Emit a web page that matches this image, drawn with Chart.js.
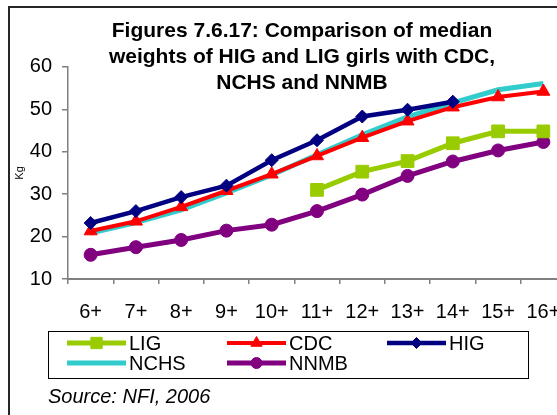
<!DOCTYPE html>
<html>
<head>
<meta charset="utf-8">
<script src="https://cdn.jsdelivr.net/npm/chart.js@4/dist/chart.umd.min.js"></script>
<style>
  html, body { margin: 0; padding: 0; background: #fff; overflow: hidden; width: 557px; height: 415px; }
  #frame { position: absolute; left: 8px; top: 6px; width: 700px; height: 600px; border: 2px solid #262626; box-sizing: border-box; }
  #c { position: absolute; left: 0; top: 0; }
</style>
</head>
<body>
<div id="frame"></div>
<canvas id="c" width="600" height="415"></canvas>
<script>
const categories = ['6+', '7+', '8+', '9+', '10+', '11+', '12+', '13+', '14+', '15+', '16+'];
const LIG  = [null, null, null, null, null, 31.0, 35.3, 37.8, 42.0, 44.8, 44.8];
const CDC  = [21.3, 23.6, 27.0, 30.8, 34.7, 39.0, 43.3, 47.2, 50.5, 52.9, 54.2];
const HIG  = [23.2, 26.0, 29.3, 32.0, 38.0, 42.7, 48.3, 49.9, 51.8, null, null];
const NCHS = [20.8, 23.3, 26.3, 30.3, 34.5, 39.3, 44.0, 48.2, 51.5, 54.6, 56.1];
const NNMB = [15.7, 17.5, 19.2, 21.4, 22.8, 26.0, 29.9, 34.3, 37.7, 40.3, 42.3];
const yTicks = [10, 20, 30, 40, 50, 60];
const titleLines = ['Figures 7.6.17: Comparison of median', 'weights of HIG and LIG girls with CDC,', 'NCHS and NNMB'];
const sourceText = 'Source: NFI, 2006';

const FONT = "'Liberation Sans', Arial, sans-serif";

const legendPlugin = {
  id: 'boxLegend',
  afterDraw(chart) {
    const ctx = chart.ctx;
    ctx.save();
    ctx.strokeStyle = '#000';
    ctx.lineWidth = 1;
    ctx.strokeRect(48.5, 331.5, 480, 47);
    const colX = [67, 227, 387];
    const rowY = [343, 363];
    chart.data.datasets.forEach((ds, i) => {
      const col = i % 3, row = Math.floor(i / 3);
      const x0 = colX[col], x1 = x0 + 59, y = rowY[row];
      ctx.strokeStyle = ds.borderColor;
      ctx.lineWidth = ds.borderWidth;
      ctx.beginPath();
      ctx.moveTo(x0, y);
      ctx.lineTo(x1, y);
      ctx.stroke();
      if (ds.pointStyle && ds.pointRadius > 0) {
        ctx.fillStyle = ds.pointBackgroundColor;
        ctx.strokeStyle = ds.pointBorderColor;
        ctx.lineWidth = 1;
        Chart.helpers.drawPoint(ctx, { pointStyle: ds.pointStyle, radius: ds.legendRadius, borderWidth: 1, rotation: 0 }, (x0 + x1) / 2, y);
      }
      ctx.fillStyle = '#000';
      ctx.font = '20px ' + FONT;
      ctx.textAlign = 'left';
      ctx.textBaseline = 'middle';
      ctx.fillText(ds.label, x1 + 3, y + 1);
    });
    ctx.font = 'italic 20px ' + FONT;
    ctx.fillStyle = '#000';
    ctx.textAlign = 'left';
    ctx.textBaseline = 'middle';
    ctx.fillText(sourceText, 48, 397);
    ctx.restore();
  }
};

function mk(label, data, color, width, style, radius, legendRadius, order) {
  return {
    label, data,
    borderColor: color, backgroundColor: color,
    borderWidth: width,
    pointStyle: style || false,
    pointRadius: radius,
    pointHoverRadius: radius,
    pointBackgroundColor: color,
    pointBorderColor: color,
    pointBorderWidth: 1,
    legendRadius,
    tension: 0,
    fill: false,
    yAxisID: 'y',
    order
  };
}

new Chart(document.getElementById('c'), {
  type: 'line',
  data: {
    labels: categories,
    datasets: [
      mk('LIG', LIG, '#99CC00', 5, 'rect', 9, 8, 2),
      mk('CDC', CDC, '#FF0000', 4, 'triangle', 7.5, 6.5, 1),
      mk('HIG', HIG, '#000080', 4.5, 'rectRot', 6.5, 5.5, 0),
      mk('NCHS', NCHS, '#33CCCC', 5, false, 0, 0, 4),
      mk('NNMB', NNMB, '#800080', 5, 'circle', 6.5, 5.5, 3)
    ]
  },
  options: {
    responsive: false,
    animation: false,
    devicePixelRatio: 1,
    layout: { padding: { left: 16, right: 12, top: 0, bottom: 86 } },
    plugins: {
      legend: { display: false },
      tooltip: { enabled: false },
      title: {
        display: true,
        text: titleLines,
        color: '#000',
        font: { family: FONT, size: 21, weight: 'bold', lineHeight: 1.26 },
        padding: { top: 17.5, bottom: -30 }
      }
    },
    scales: {
      x: {
        type: 'category',
        offset: true,
        grid: { display: true, drawOnChartArea: false, drawTicks: true, tickLength: 5, color: '#808080', lineWidth: 1.5, offset: true },
        border: { display: true, color: '#808080', width: 2 },
        ticks: { color: '#000', font: { family: FONT, size: 20 }, padding: 16, maxRotation: 0, autoSkip: false },
        afterFit(s) { s.height = 50; }
      },
      y: {
        position: 'left',
        min: 10, max: 60,
        afterBuildTicks(s) { s.ticks = yTicks.map(v => ({ value: v })); },
        grid: { display: true, drawOnChartArea: false, drawTicks: true, tickLength: 6, color: '#808080', lineWidth: 1.5 },
        border: { display: true, color: '#808080', width: 1.5 },
        ticks: { color: '#000', font: { family: FONT, size: 20 }, padding: 10 },
        title: { display: true, text: 'Kg', color: '#000', font: { family: FONT, size: 11 }, padding: { top: -2.6, bottom: 0 } },
        afterFit(s) { s.width = 52; }
      },
      yPad: {
        position: 'right',
        display: true,
        grid: { display: false },
        border: { display: false },
        ticks: { display: false },
        afterFit(s) { s.width = 22; }
      }
    }
  },
  plugins: [legendPlugin]
});
</script>
</body>
</html>
